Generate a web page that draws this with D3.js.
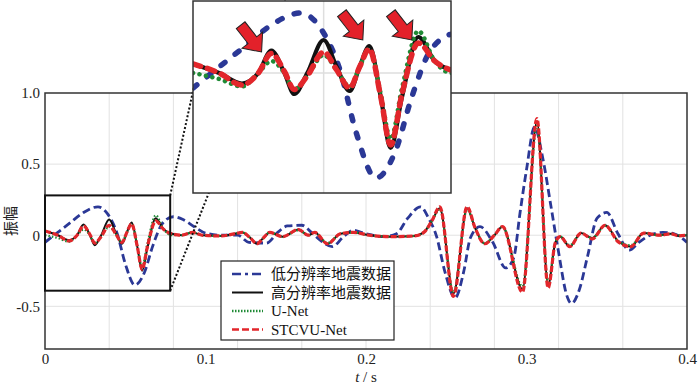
<!DOCTYPE html>
<html>
<head>
<meta charset="utf-8">
<script src="https://cdn.jsdelivr.net/npm/d3@7"></script>
<style>
body { margin: 0; background: #fff; }
text { font-family: "Liberation Serif", "Times New Roman", "Noto Sans CJK SC", serif; }
</style>
</head>
<body>
<div id="chart"></div>
<script>
// low resolution trace (blue)
const tLow = [0, 0.008, 0.016, 0.024, 0.033, 0.039, 0.045, 0.050, 0.056, 0.062,
  0.067, 0.073, 0.080, 0.086, 0.093, 0.100, 0.110, 0.120, 0.127, 0.138,
  0.145, 0.151, 0.160, 0.166, 0.172, 0.179, 0.186, 0.192, 0.200, 0.211,
  0.219, 0.226, 0.234, 0.239, 0.244, 0.249, 0.2555, 0.261, 0.265, 0.271,
  0.279, 0.287, 0.292, 0.296, 0.300, 0.305, 0.310, 0.315, 0.320, 0.325,
  0.328, 0.333, 0.338, 0.344, 0.350, 0.357, 0.364, 0.370, 0.377, 0.385,
  0.392, 0.400];
const vLow = [-0.05, 0.02, 0.09, 0.16, 0.20, 0.15, 0.01, -0.20, -0.35, -0.26,
  -0.08, 0.08, 0.13, 0.11, 0.06, 0.015, 0.0, 0.0, -0.05, -0.055,
  0.02, 0.065, 0.07, 0.02, -0.04, -0.08, -0.01, 0.035, 0.01, -0.01,
  0.01, 0.12, 0.20, 0.12, -0.01, -0.25, -0.44, -0.25, -0.02, 0.06,
  -0.05, -0.23, -0.16, 0.16, 0.46, 0.76, 0.55, 0.22, -0.12, -0.42,
  -0.48, -0.38, -0.15, 0.12, 0.16, 0.01, -0.105, -0.05, 0.0, 0.02,
  0.01, -0.05];

// high resolution, U-Net and STCVU-Net share the same time samples
const tHigh = [0, 0.008, 0.015, 0.020, 0.024, 0.028, 0.031, 0.035, 0.040, 0.044,
  0.048, 0.051, 0.054, 0.0575, 0.0605, 0.064, 0.069, 0.074, 0.079, 0.085,
  0.092, 0.098, 0.110, 0.118, 0.123, 0.128, 0.132, 0.136, 0.140, 0.148,
  0.158, 0.164, 0.168, 0.176, 0.184, 0.192, 0.202, 0.215, 0.230, 0.236,
  0.241, 0.246, 0.2545, 0.263, 0.268, 0.274, 0.280, 0.285, 0.2975, 0.3065,
  0.3135, 0.318, 0.321, 0.327, 0.334, 0.341, 0.349, 0.357, 0.365, 0.373,
  0.383, 0.390, 0.395, 0.400];
const vHigh = [0.03, 0.0, -0.035, 0.0, 0.075, 0.0, -0.07, 0.0, 0.11, 0.02,
  -0.06, 0.02, 0.09, -0.08, -0.25, -0.08, 0.12, 0.04, 0.01, 0.0,
  0.02, 0.0, -0.005, 0.01, 0.02, -0.02, -0.06, -0.02, 0.02, -0.01,
  0.04, 0.0, 0.02, -0.06, 0.01, 0.02, 0.0, -0.01, -0.005, 0.02,
  0.10, 0.19, -0.41, 0.19, 0.05, -0.06, 0.0, 0.06, -0.38, 0.80,
  -0.35, -0.05, -0.01, -0.08, 0.015, -0.02, 0.07, -0.04, -0.08, 0.015,
  0.0, 0.01, -0.005, 0.0];
const vUnet = [0.0, -0.02, -0.045, 0.0, 0.04, 0.0, -0.055, -0.01, 0.06, 0.01,
  -0.045, 0.02, 0.08, -0.07, -0.22, -0.05, 0.14, 0.04, 0.0, 0.0,
  0.02, 0.0, -0.005, 0.01, 0.02, -0.02, -0.055, -0.02, 0.02, -0.01,
  0.035, 0.0, 0.02, -0.055, 0.01, 0.02, 0.0, -0.01, -0.005, 0.02,
  0.10, 0.18, -0.40, 0.18, 0.05, -0.055, 0.0, 0.06, -0.36, 0.77,
  -0.33, -0.05, -0.01, -0.07, 0.015, -0.02, 0.065, -0.04, -0.07, 0.015,
  0.0, 0.01, 0.0, 0.0];
const vStcvu = [0.03, 0.0, -0.04, 0.0, 0.065, 0.005, -0.055, -0.01, 0.07, 0.01,
  -0.05, 0.02, 0.08, -0.08, -0.24, -0.07, 0.10, 0.04, 0.01, 0.0,
  0.02, 0.0, -0.005, 0.01, 0.02, -0.02, -0.06, -0.02, 0.02, -0.01,
  0.04, 0.0, 0.02, -0.06, 0.01, 0.02, 0.0, -0.01, -0.005, 0.02,
  0.10, 0.20, -0.43, 0.20, 0.05, -0.06, 0.0, 0.06, -0.40, 0.82,
  -0.37, -0.05, -0.01, -0.08, 0.015, -0.025, 0.07, -0.045, -0.08, 0.015,
  0.0, 0.01, -0.005, 0.0];

const seriesNames = ["低分辨率地震数据", "高分辨率地震数据", "U-Net", "STCVU-Net"];
const xTicks = [0, 0.1, 0.2, 0.3, 0.4];
const yTicks = [-0.5, 0, 0.5, 1.0];
const xGrid = [0.04, 0.08, 0.12, 0.16, 0.2, 0.24, 0.28, 0.32, 0.36];
const yGrid = [-0.5, 0, 0.5];

// zoomed window and inset view
const zoomT = [0, 0.078];
const zoomV = [-0.39, 0.28];
const insetT = [0, 0.079];
const insetV = [-0.40, 0.24];
const arrowT = [0.021, 0.052, 0.067];
const arrowV = [0.07, 0.11, 0.11];

const W = 700, H = 386;
const svg = d3.select("#chart").append("svg").attr("width", W).attr("height", H);
svg.append("rect").attr("width", W).attr("height", H).attr("fill", "#fff");

const m = { l: 45, r: 687, t: 93, b: 349 };
const x = d3.scaleLinear().domain([0, 0.4]).range([m.l, m.r]);
const y = d3.scaleLinear().domain([-0.8, 1.0]).range([m.b, m.t]);

const low = tLow.map((t, i) => ({ t: t, v: vLow[i] }));
const high = tHigh.map((t, i) => ({ t: t, v: vHigh[i] }));
const unet = tHigh.map((t, i) => ({ t: t, v: vUnet[i] }));
const stcvu = tHigh.map((t, i) => ({ t: t, v: vStcvu[i] }));

const series = [
  { name: seriesNames[0], data: low, color: "#2b3896", w: 2.8, dash: "8,4", iw: 5.5, idash: "5,13", cap: "round" },
  { name: seriesNames[1], data: high, color: "#111", w: 2, dash: null, iw: 4.2, idash: null, cap: "butt" },
  { name: seriesNames[2], data: unet, color: "#1f8a35", w: 2.2, dash: "1.5,2", iw: 4.5, idash: "0.1,6.5", cap: "round" },
  { name: seriesNames[3], data: stcvu, color: "#e2262b", w: 3.2, dash: "6,2", iw: 5.5, idash: "8,7", cap: "round" }
];

// grid
const grid = svg.append("g").attr("stroke", "#e2e2e2").attr("stroke-width", 1);
grid.selectAll(".vg").data(xGrid).enter().append("line")
  .attr("x1", d => x(d)).attr("x2", d => x(d)).attr("y1", m.t).attr("y2", m.b);
grid.selectAll(".hg").data(yGrid).enter().append("line")
  .attr("x1", m.l).attr("x2", m.r).attr("y1", d => y(d)).attr("y2", d => y(d));

svg.append("clipPath").attr("id", "plotclip").append("rect")
  .attr("x", m.l).attr("y", m.t).attr("width", m.r - m.l).attr("height", m.b - m.t);

const line = d3.line().x(d => x(d.t)).y(d => y(d.v)).curve(d3.curveMonotoneX);
const curves = svg.append("g").attr("clip-path", "url(#plotclip)");
series.forEach(s => {
  curves.append("path").attr("d", line(s.data))
    .attr("fill", "none").attr("stroke", s.color).attr("stroke-width", s.w)
    .attr("stroke-dasharray", s.dash).attr("stroke-linejoin", "round");
});

// frame
svg.append("rect").attr("x", m.l).attr("y", m.t).attr("width", m.r - m.l).attr("height", m.b - m.t)
  .attr("fill", "none").attr("stroke", "#333").attr("stroke-width", 1.5);

// axes
const fmt = d => d === 0 ? "0" : d.toFixed(1);
const xAxis = svg.append("g").attr("transform", "translate(0," + m.b + ")")
  .call(d3.axisBottom(x).tickValues(xTicks).tickSize(0).tickPadding(4).tickFormat(fmt));
const yAxis = svg.append("g").attr("transform", "translate(" + m.l + ",0)")
  .call(d3.axisLeft(y).tickValues(yTicks).tickSize(0).tickPadding(5).tickFormat(fmt));
[xAxis, yAxis].forEach(a => {
  a.select(".domain").remove();
  a.selectAll("text").attr("font-size", 15).attr("fill", "#222")
    .attr("font-family", "Liberation Serif, serif");
});

svg.append("text").attr("transform", "translate(11," + (m.t + m.b) / 2 + ") rotate(-90)")
  .attr("text-anchor", "middle").attr("dy", "0.35em").attr("font-size", 15).attr("fill", "#222")
  .style("font-family", "Noto Sans CJK SC").text("振幅");
const xt = svg.append("text").attr("x", (m.l + m.r) / 2).attr("y", 382)
  .attr("text-anchor", "middle").attr("font-size", 15).attr("fill", "#222");
xt.append("tspan").attr("font-style", "italic").text("t");
xt.append("tspan").text(" / s");

// zoom box and connectors
const ins = { x: 193, y: 1, w: 258, h: 192 };
const zx1 = x(zoomT[1]), zyTop = y(zoomV[1]), zyBot = y(zoomV[0]);
svg.append("line").attr("x1", zx1).attr("y1", zyTop).attr("x2", ins.x + 20).attr("y2", 0)
  .attr("stroke", "#111").attr("stroke-width", 2).attr("stroke-dasharray", "2,2");
svg.append("line").attr("x1", zx1).attr("y1", zyBot).attr("x2", ins.x + 92).attr("y2", 0)
  .attr("stroke", "#111").attr("stroke-width", 2).attr("stroke-dasharray", "2,2");
svg.append("rect").attr("x", x(zoomT[0])).attr("y", zyTop)
  .attr("width", zx1 - x(zoomT[0])).attr("height", zyBot - zyTop)
  .attr("fill", "none").attr("stroke", "#111").attr("stroke-width", 2);

// legend
const lg = svg.append("g").attr("transform", "translate(221,261)");
lg.append("rect").attr("width", 173).attr("height", 79)
  .attr("fill", "#fff").attr("stroke", "#222").attr("stroke-width", 1.2);
const legDash = ["9,4,3,4", null, "1.5,1.5", "7,3"];
series.forEach((s, i) => {
  const ly = 13 + i * 18.5;
  lg.append("line").attr("x1", 11).attr("x2", 42).attr("y1", ly).attr("y2", ly)
    .attr("stroke", s.color).attr("stroke-width", i === 1 ? 2 : 2.5)
    .attr("stroke-dasharray", legDash[i]);
  lg.append("text").attr("x", 50).attr("y", ly).attr("dy", "0.35em")
    .attr("font-size", 15).attr("fill", "#111").text(s.name);
});

// inset
const xi = d3.scaleLinear().domain(insetT).range([ins.x, ins.x + ins.w]);
const yi = d3.scaleLinear().domain(insetV).range([ins.y + ins.h, ins.y]);
svg.append("clipPath").attr("id", "insclip").append("rect")
  .attr("x", ins.x).attr("y", ins.y).attr("width", ins.w).attr("height", ins.h);
const ig = svg.append("g");
ig.append("rect").attr("x", ins.x).attr("y", ins.y).attr("width", ins.w).attr("height", ins.h).attr("fill", "#fff");
const ic = ig.append("g").attr("clip-path", "url(#insclip)");
ic.append("line").attr("x1", xi(0.04)).attr("x2", xi(0.04)).attr("y1", ins.y).attr("y2", ins.y + ins.h)
  .attr("stroke", "#dedede").attr("stroke-width", 1.5);
ic.append("line").attr("x1", ins.x).attr("x2", ins.x + ins.w).attr("y1", yi(0)).attr("y2", yi(0))
  .attr("stroke", "#dedede").attr("stroke-width", 1.5);
const iline = d3.line().x(d => xi(d.t)).y(d => yi(d.v)).curve(d3.curveMonotoneX);
series.forEach(s => {
  ic.append("path").attr("d", iline(s.data))
    .attr("fill", "none").attr("stroke", s.color).attr("stroke-width", s.iw)
    .attr("stroke-dasharray", s.idash).attr("stroke-linecap", s.cap)
    .attr("stroke-linejoin", "round");
});
const arrowPath = "M0,0 L-15,-13 L-15,-5.5 L-34,-5.5 L-34,5.5 L-15,5.5 L-15,13 Z";
ic.selectAll(".arrow").data(arrowT).enter().append("path")
  .attr("d", arrowPath)
  .attr("transform", (d, i) => "translate(" + xi(d) + "," + yi(arrowV[i]) + ") rotate(52)")
  .attr("fill", "#e3212a").attr("stroke", "#222").attr("stroke-width", 1);
ig.append("rect").attr("x", ins.x).attr("y", ins.y).attr("width", ins.w).attr("height", ins.h)
  .attr("fill", "none").attr("stroke", "#333").attr("stroke-width", 1.5);
</script>
</body>
</html>
